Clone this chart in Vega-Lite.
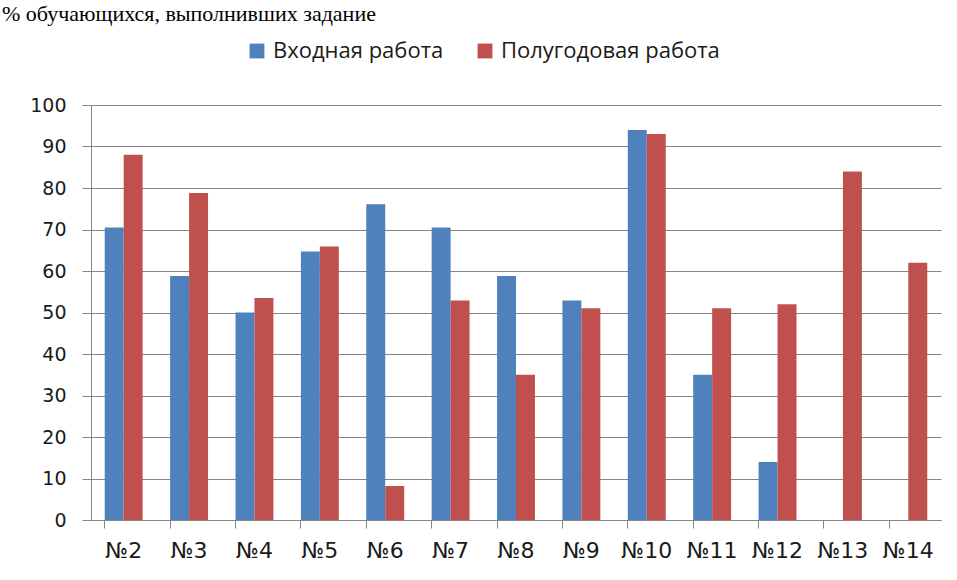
{
  "$schema": "https://vega.github.io/schema/vega-lite/v6.json",
  "width": 850,
  "height": 415,
  "autosize": {"type": "none"},
  "padding": {"left": 91, "top": 105, "right": 16, "bottom": 60},
  "background": "white",
  "title": {
    "text": "% обучающихся, выполнивших задание",
    "anchor": "start",
    "frame": "group",
    "font": "Liberation Serif",
    "fontSize": 22,
    "fontWeight": "normal",
    "color": "#000000",
    "dx": -89,
    "dy": -14,
    "offset": 0
  },
  "data": {
    "values": [
      {"task": "№2", "series": "Входная работа", "value": 70.5},
      {"task": "№2", "series": "Полугодовая работа", "value": 88},
      {"task": "№3", "series": "Входная работа", "value": 58.8},
      {"task": "№3", "series": "Полугодовая работа", "value": 78.8},
      {"task": "№4", "series": "Входная работа", "value": 50},
      {"task": "№4", "series": "Полугодовая работа", "value": 53.5},
      {"task": "№5", "series": "Входная работа", "value": 64.7},
      {"task": "№5", "series": "Полугодовая работа", "value": 65.9},
      {"task": "№6", "series": "Входная работа", "value": 76.1},
      {"task": "№6", "series": "Полугодовая работа", "value": 8.2},
      {"task": "№7", "series": "Входная работа", "value": 70.5},
      {"task": "№7", "series": "Полугодовая работа", "value": 52.9},
      {"task": "№8", "series": "Входная работа", "value": 58.8},
      {"task": "№8", "series": "Полугодовая работа", "value": 35},
      {"task": "№9", "series": "Входная работа", "value": 52.9},
      {"task": "№9", "series": "Полугодовая работа", "value": 51},
      {"task": "№10", "series": "Входная работа", "value": 94},
      {"task": "№10", "series": "Полугодовая работа", "value": 93},
      {"task": "№11", "series": "Входная работа", "value": 35},
      {"task": "№11", "series": "Полугодовая работа", "value": 51},
      {"task": "№12", "series": "Входная работа", "value": 14},
      {"task": "№12", "series": "Полугодовая работа", "value": 52},
      {"task": "№13", "series": "Полугодовая работа", "value": 84},
      {"task": "№14", "series": "Полугодовая работа", "value": 62}
    ]
  },
  "mark": {"type": "bar", "stroke": null},
  "encoding": {
    "x": {
      "field": "task",
      "type": "nominal",
      "sort": null,
      "scale": {"paddingInner": 0.42, "paddingOuter": 0.21},
      "axis": {
        "title": null,
        "labelAngle": 0,
        "bandPosition": 0,
        "ticks": true,
        "tickSize": 8,
        "tickColor": "#868686",
        "domainColor": "#868686",
        "labelFont": "DejaVu Sans",
        "labelFontSize": 22,
        "labelColor": "#1a1a1a",
        "labelPadding": 12,
        "grid": false
      }
    },
    "xOffset": {
      "field": "series",
      "type": "nominal",
      "sort": ["Входная работа", "Полугодовая работа"],
      "scale": {"paddingInner": 0, "paddingOuter": 0}
    },
    "y": {
      "field": "value",
      "type": "quantitative",
      "scale": {"domain": [0, 100], "nice": false},
      "axis": {
        "title": null,
        "values": [0, 10, 20, 30, 40, 50, 60, 70, 80, 90, 100],
        "tickSize": 9,
        "tickColor": "#868686",
        "domainColor": "#868686",
        "gridColor": "#868686",
        "gridWidth": 1,
        "labelFont": "DejaVu Sans",
        "labelFontSize": 19,
        "labelColor": "#1a1a1a",
        "labelPadding": 16
      }
    },
    "color": {
      "field": "series",
      "type": "nominal",
      "sort": ["Входная работа", "Полугодовая работа"],
      "scale": {"range": ["#4F81BD", "#C0504D"]},
      "legend": {
        "title": null,
        "orient": "none",
        "direction": "horizontal",
        "legendX": 155,
        "legendY": -65,
        "symbolType": "square",
        "symbolSize": 220,
        "symbolStrokeWidth": 0,
        "labelFont": "Open Sans",
        "labelFontSize": 22,
        "labelLimit": 400,
        "labelColor": "#1a1a1a",
        "columnPadding": 30,
        "labelOffset": 5
      }
    }
  },
  "config": {
    "view": {"stroke": null},
    "axis": {"domainWidth": 1, "tickWidth": 1}
  }
}
